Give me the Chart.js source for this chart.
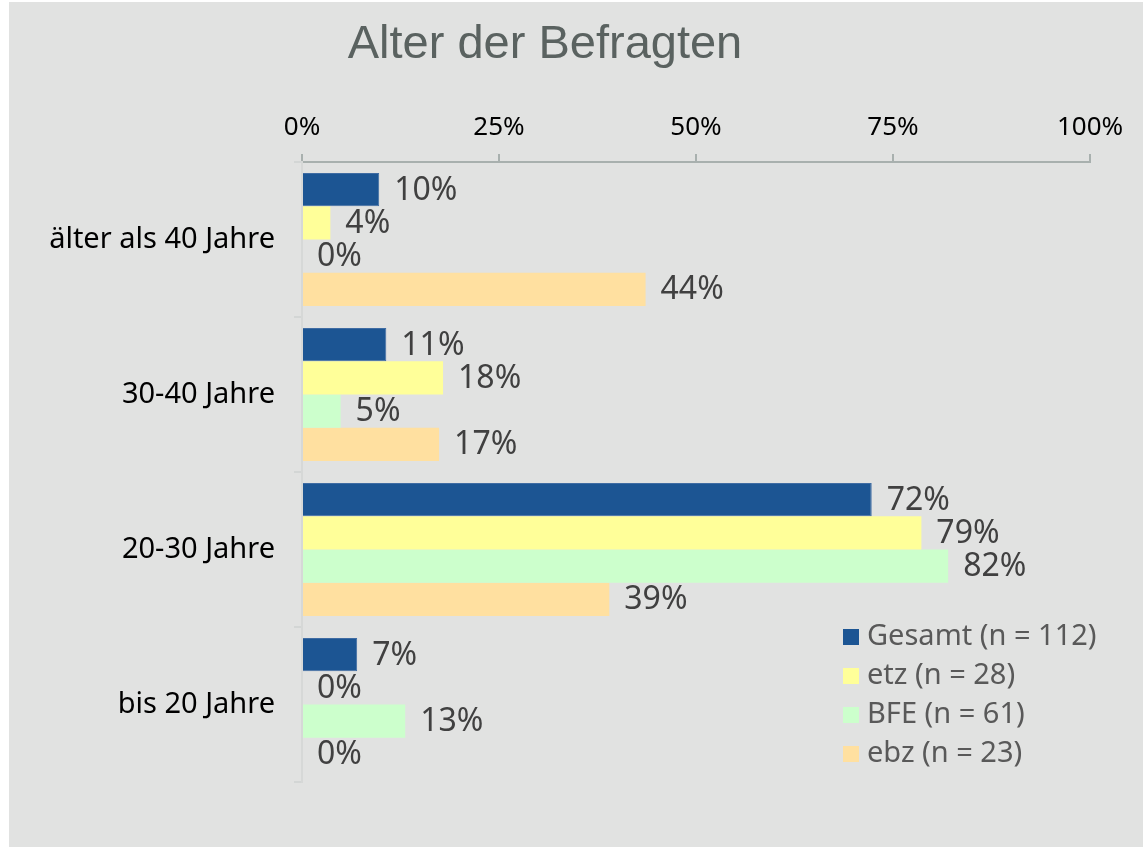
<!DOCTYPE html>
<html>
<head>
<meta charset="utf-8">
<script src="https://cdn.jsdelivr.net/npm/chart.js"></script>
<style>
  html, body { margin: 0; padding: 0; background: #ffffff; }
  canvas { display: block; }
</style>
</head>
<body>
<canvas id="c" width="1143" height="847"></canvas>
<script>
const titleText = "Alter der Befragten";
const categories = ["älter als 40 Jahre", "30-40 Jahre", "20-30 Jahre", "bis 20 Jahre"];
const seriesNames = ["Gesamt (n = 112)", "etz (n = 28)", "BFE (n = 61)", "ebz (n = 23)"];
const gesamt = [9.8, 10.7, 72.3, 7.0];
const etz    = [3.6, 17.9, 78.6, 0];
const bfe    = [0, 4.9, 82.0, 13.1];
const ebz    = [43.6, 17.4, 39.0, 0];
const xTicks = [0, 25, 50, 75, 100];
const seriesColors = ["#1C5593", "#FFFF99", "#CCFFCC", "#FFE0A0"];

const FONT = "'Noto Sans', 'Open Sans', sans-serif";

const bgPlugin = {
  id: 'bg',
  beforeDraw(chart) {
    const ctx = chart.ctx;
    ctx.save();
    ctx.fillStyle = '#E1E2E1';
    ctx.fillRect(9, 2, chart.width - 9, chart.height - 2);
    ctx.restore();
  }
};

const titlePlugin = {
  id: 'titleDraw',
  afterDraw(chart) {
    const ctx = chart.ctx;
    ctx.save();
    ctx.font = "47px 'Liberation Sans', Arial, sans-serif";
    ctx.fillStyle = '#5A6260';
    ctx.textAlign = 'center';
    ctx.textBaseline = 'alphabetic';
    ctx.fillText(titleText, 545, 58);
    ctx.restore();
  }
};

const labelPlugin = {
  id: 'valueLabels',
  afterDatasetsDraw(chart) {
    const ctx = chart.ctx;
    ctx.save();
    ctx.font = "32px " + FONT;
    ctx.fillStyle = '#404040';
    ctx.textAlign = 'left';
    ctx.textBaseline = 'middle';
    chart.data.datasets.forEach((ds, i) => {
      const meta = chart.getDatasetMeta(i);
      meta.data.forEach((bar, j) => {
        const v = ds.data[j];
        ctx.fillText(Math.round(v) + '%', bar.x + 15, bar.y + 1);
      });
    });
    ctx.restore();
  }
};

const legendPlugin = {
  id: 'legendDraw',
  afterDraw(chart) {
    const ctx = chart.ctx;
    ctx.save();
    ctx.font = "29px " + FONT;
    ctx.textAlign = 'left';
    ctx.textBaseline = 'middle';
    chart.data.datasets.forEach((ds, i) => {
      const cy = 637 + i * 39;
      ctx.fillStyle = ds.backgroundColor;
      ctx.fillRect(843, cy - 8, 16, 16);
      ctx.fillStyle = '#595959';
      ctx.fillText(ds.label, 867, cy);
    });
    ctx.restore();
  }
};

const seriesData = [gesamt, etz, bfe, ebz];

new Chart(document.getElementById('c'), {
  type: 'bar',
  data: {
    labels: categories,
    datasets: seriesData.map((d, i) => ({
      label: seriesNames[i],
      data: d,
      backgroundColor: seriesColors[i],
      borderColor: i === 0 ? '#3F6CA3' : seriesColors[i],
      borderWidth: i === 0 ? 1 : 0,
      categoryPercentage: 0.858,
      barPercentage: 1.0
    }))
  },
  options: {
    indexAxis: 'y',
    responsive: false,
    animation: false,
    devicePixelRatio: 1,
    layout: { padding: { left: 0, right: 53, top: 100, bottom: 65 } },
    plugins: {
      legend: { display: false },
      title: { display: false },
      tooltip: { enabled: false }
    },
    scales: {
      x: {
        position: 'top',
        min: 0,
        max: 100,
        afterFit(scale) { scale.height = 62; },
        afterBuildTicks(scale) { scale.ticks = xTicks.map(v => ({ value: v })); },
        ticks: {
          font: { family: FONT, size: 26 },
          color: '#000000',
          padding: 11,
          callback: v => v + '%'
        },
        grid: {
          drawOnChartArea: false,
          drawTicks: true,
          tickLength: 8,
          color: '#A8B0AE',
          lineWidth: 2
        },
        border: { display: true, color: '#A8B0AE', width: 2 }
      },
      y: {
        afterFit(scale) { scale.width = 302; },
        ticks: {
          font: { family: FONT, size: 29 },
          color: '#000000',
          padding: 19
        },
        grid: {
          offset: true,
          drawOnChartArea: false,
          drawTicks: true,
          tickLength: 8,
          color: '#D3D6D5',
          lineWidth: 2
        },
        border: { display: true, color: '#D6D8D7', width: 2 }
      }
    }
  },
  plugins: [bgPlugin, labelPlugin, titlePlugin, legendPlugin]
});
</script>
</body>
</html>
